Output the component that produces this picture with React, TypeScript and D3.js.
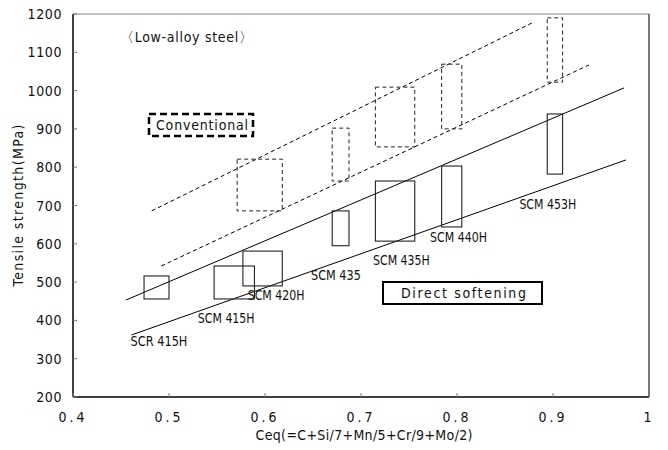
import * as d3 from 'd3';
import React from 'react';

const W = 668;
const H = 450;
const margin = { top: 14, right: 19, bottom: 53, left: 73 };

// axis ticks
const xTicks = [0.4, 0.5, 0.6, 0.7, 0.8, 0.9, 1];
const xTickLabels = ['0.4', '0.5', '0.6', '0.7', '0.8', '0.9', '1'];
const yTicks = [200, 300, 400, 500, 600, 700, 800, 900, 1000, 1100, 1200];

// conventional (dashed) ranges
const convX0 = [0.571, 0.670, 0.715, 0.784, 0.894];
const convX1 = [0.618, 0.6875, 0.756, 0.805, 0.910];
const convLo = [686, 764, 853, 900, 1022];
const convHi = [821, 902, 1009, 1069, 1190];

// direct softening (solid) ranges
const grades = ['SCR 415H', 'SCM 415H', 'SCM 420H', 'SCM 435', 'SCM 435H', 'SCM 440H', 'SCM 453H'];
const dsX0 = [0.474, 0.547, 0.577, 0.670, 0.715, 0.784, 0.894];
const dsX1 = [0.500, 0.589, 0.618, 0.6875, 0.756, 0.805, 0.910];
const dsLo = [456, 456, 490, 595, 607, 644, 782];
const dsHi = [516, 542, 581, 686, 764, 803, 939];
// where each grade name sits (Ceq, MPa)
const gradeLabelX = [0.460, 0.530, 0.582, 0.648, 0.7125, 0.772, 0.865];
const gradeLabelY = [333, 393, 453, 505, 545, 605, 691];

// band boundaries
const dsUpper: [number, number][] = [[0.455, 453], [0.974, 1007]];
const dsLower: [number, number][] = [[0.461, 362], [0.976, 819]];
const convUpper: [number, number][] = [[0.482, 686], [0.880, 1179]];
const convLower: [number, number][] = [[0.492, 542], [0.9375, 1067]];

const font = "'Liberation Sans Narrow', 'DejaVu Sans Condensed', 'Liberation Sans', sans-serif";

export default function App() {
    const iw = W - margin.left - margin.right;
    const ih = H - margin.top - margin.bottom;
    const x = d3.scaleLinear().domain([0.4, 1]).range([0, iw]);
    const y = d3.scaleLinear().domain([200, 1200]).range([ih, 0]);
    const line = d3.line<[number, number]>().x(d => x(d[0])).y(d => y(d[1]));

    return (
        <svg width={W} height={H} style={{ position: 'absolute', left: 0, top: 0, background: '#fff' }}
            fontFamily={font}>
            <g transform={`translate(${margin.left},${margin.top})`}>
                {/* frame */}
                <line x1={0} x2={iw} y1={0} y2={0} stroke="#888" strokeWidth={1} />
                <line x1={iw} x2={iw} y1={0} y2={ih} stroke="#222" strokeWidth={1.2} />
                <line x1={0} x2={0} y1={0} y2={ih} stroke="#000" strokeWidth={1.5} />
                <line x1={0} x2={iw} y1={ih} y2={ih} stroke="#000" strokeWidth={1.5} />

                {yTicks.map(t => (
                    <g key={t}>
                        <line x1={0} x2={4} y1={y(t)} y2={y(t)} stroke="#777" />
                        <text x={-11} y={y(t)} dy="0.36em" textAnchor="end" fontSize={14}
                            letterSpacing={0.6} fill="#111">{t}</text>
                    </g>
                ))}
                {xTicks.map((t, i) => (
                    <g key={t}>
                        <line x1={x(t)} x2={x(t)} y1={ih} y2={ih - 4} stroke="#777" />
                        <text x={x(t)} y={ih + 25} textAnchor="middle" fontSize={14}
                            letterSpacing={3} fill="#111">{xTickLabels[i]}</text>
                    </g>
                ))}

                {/* boundaries */}
                <path d={line(dsUpper) || ''} fill="none" stroke="#000" strokeWidth={1} />
                <path d={line(dsLower) || ''} fill="none" stroke="#000" strokeWidth={1} />
                <path d={line(convUpper) || ''} fill="none" stroke="#000" strokeWidth={1} strokeDasharray="4,3" />
                <path d={line(convLower) || ''} fill="none" stroke="#000" strokeWidth={1} strokeDasharray="4,3" />

                {/* conventional ranges */}
                {convX0.map((v, i) => (
                    <rect key={'c' + i} x={x(v)} y={y(convHi[i])} width={x(convX1[i]) - x(v)}
                        height={y(convLo[i]) - y(convHi[i])} fill="none" stroke="#222"
                        strokeWidth={1} strokeDasharray="4,3" />
                ))}

                {/* direct softening ranges */}
                {dsX0.map((v, i) => (
                    <rect key={'d' + i} x={x(v)} y={y(dsHi[i])} width={x(dsX1[i]) - x(v)}
                        height={y(dsLo[i]) - y(dsHi[i])} fill="none" stroke="#222" strokeWidth={1.1} />
                ))}
                {grades.map((g, i) => (
                    <text key={g} x={x(gradeLabelX[i])} y={y(gradeLabelY[i])} fontSize={14}
                        textLength={g.length * 7.1} lengthAdjust="spacingAndGlyphs" fill="#111">{g}</text>
                ))}

                {/* annotations */}
                <text x={47} y={28} fontSize={14} textLength={133} lengthAdjust="spacing" fill="#111">〈Low-alloy steel〉</text>

                <rect x={76} y={100} width={104} height={22} fill="none" stroke="#000" strokeWidth={2.5}
                    strokeDasharray="7,4" />
                <text x={83} y={116} fontSize={14} textLength={92} lengthAdjust="spacing" fill="#111">Conventional</text>

                <rect x={310} y={268} width={159} height={22} fill="#fff" stroke="#000" strokeWidth={2} />
                <text x={328} y={284} fontSize={14} textLength={125} lengthAdjust="spacing" fill="#111">Direct softening</text>
            </g>

            <text x={364} y={440} textAnchor="middle" fontSize={14} textLength={217} lengthAdjust="spacing"
                fill="#111">Ceq(=C+Si/7+Mn/5+Cr/9+Mo/2)</text>
            <text transform={`translate(23,${margin.top + (H - margin.top - margin.bottom) / 2}) rotate(-90)`}
                textAnchor="middle" fontSize={14} textLength={162} lengthAdjust="spacing" fill="#111">
                Tensile strength(MPa)
            </text>
        </svg>
    );
}
